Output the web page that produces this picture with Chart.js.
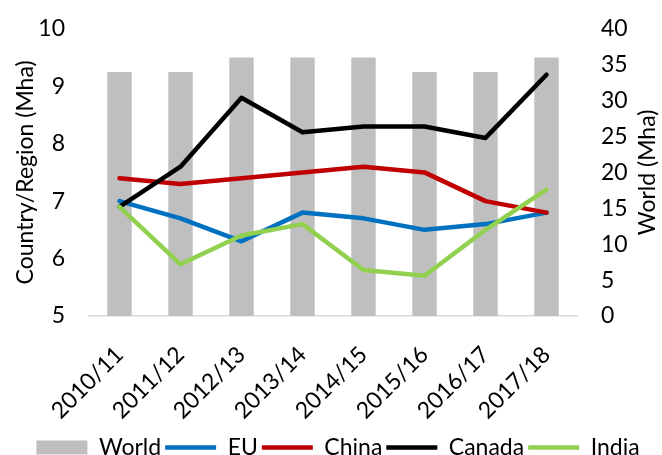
<!DOCTYPE html>
<html>
<head>
<meta charset="utf-8">
<title>Area harvested</title>
<script src="https://cdn.jsdelivr.net/npm/chart.js@4.4.1/dist/chart.umd.min.js"></script>
<style>
  html, body { margin: 0; padding: 0; background: #fff; }
  #wrap { width: 662px; height: 455px; }
</style>
</head>
<body>
<div id="wrap"><canvas id="chart" width="662" height="455"></canvas></div>
<script>
const categories = ["2010/11", "2011/12", "2012/13", "2013/14", "2014/15", "2015/16", "2016/17", "2017/18"];
const world = [34, 34, 36, 36, 36, 34, 34, 36];
const eu = [7.0, 6.7, 6.3, 6.8, 6.7, 6.5, 6.6, 6.8];
const china = [7.4, 7.3, 7.4, 7.5, 7.6, 7.5, 7.0, 6.8];
const canada = [6.9, 7.6, 8.8, 8.2, 8.3, 8.3, 8.1, 9.2];
const india = [6.9, 5.9, 6.4, 6.6, 5.8, 5.7, 6.5, 7.2];

const leftTicks = { min: 5, max: 10, step: 1 };
const rightTicks = { min: 0, max: 40, step: 5 };

const FONT = "Lato";
const FS = 23;
const TEXT = "#000000";

Chart.defaults.font.family = FONT;
Chart.defaults.font.size = FS;
Chart.defaults.color = TEXT;

// Right axis title reads bottom-to-top, Chart.js would draw it top-to-bottom.
const rightTitle = {
  id: "rightTitle",
  afterDraw(chart) {
    const { ctx, chartArea } = chart;
    ctx.save();
    ctx.translate(648, (chartArea.top + chartArea.bottom) / 2);
    ctx.rotate(-Math.PI / 2);
    ctx.font = FS + "px " + FONT;
    ctx.fillStyle = TEXT;
    ctx.textAlign = "center";
    ctx.textBaseline = "middle";
    ctx.fillText("World (Mha)", 0, 0);
    ctx.restore();
  },
};

function lineSet(label, data, color, order) {
  return {
    type: "line",
    label: label,
    data: data,
    yAxisID: "y",
    borderColor: color,
    backgroundColor: color,
    borderWidth: 4.5,
    borderCapStyle: "round",
    borderJoinStyle: "round",
    pointRadius: 0,
    pointHoverRadius: 0,
    pointStyle: "line",
    tension: 0,
    fill: false,
    order: order,
  };
}

// No grid is drawn; the hidden tick length only adds to the label gap.
const yGrid = { display: false, drawTicks: true, tickLength: 9 };

new Chart(document.getElementById("chart"), {
  type: "bar",
  data: {
    labels: categories,
    datasets: [
      {
        type: "bar",
        label: "World",
        data: world,
        yAxisID: "y1",
        backgroundColor: "#bfbfbf",
        borderWidth: 0,
        barPercentage: 0.5,
        categoryPercentage: 0.8,
        pointStyle: "rect",
        order: 5,
      },
      lineSet("EU", eu, "#0070c0", 4),
      lineSet("China", china, "#c00000", 3),
      lineSet("Canada", canada, "#000000", 2),
      lineSet("India", india, "#92d050", 1),
    ],
  },
  options: {
    responsive: false,
    animation: false,
    layout: { padding: { top: 0, left: 14, right: 0, bottom: -14 } },
    plugins: {
      tooltip: { enabled: false },
      legend: {
        position: "bottom",
        labels: {
          usePointStyle: true,
          pointStyleWidth: 51,
          boxHeight: 14,
          padding: 4,
          color: TEXT,
          font: { size: FS },
          sort: (a, b) => a.datasetIndex - b.datasetIndex,
        },
      },
    },
    scales: {
      x: {
        offset: true,
        grid: { display: false, drawTicks: false },
        border: { display: true, color: "#d9d9d9", width: 1.5 },
        ticks: { minRotation: 45, maxRotation: 45, padding: 25, color: TEXT },
        afterFit: (scale) => { scale.height = 116; },
      },
      y: {
        position: "left",
        min: leftTicks.min,
        max: leftTicks.max,
        grid: yGrid,
        border: { display: false },
        ticks: { stepSize: leftTicks.step, padding: 15, color: TEXT },
        title: {
          display: true,
          text: "Country/Region (Mha)",
          color: TEXT,
          font: { size: FS, lineHeight: 1 },
          padding: { top: 0, bottom: 0 },
        },
        afterFit: (scale) => { scale.width = 75; },
      },
      y1: {
        position: "right",
        min: rightTicks.min,
        max: rightTicks.max,
        grid: yGrid,
        border: { display: false },
        ticks: { stepSize: rightTicks.step, padding: 15, color: TEXT },
        afterFit: (scale) => { scale.width = 85; },
      },
    },
  },
  plugins: [rightTitle],
});
</script>
</body>
</html>
